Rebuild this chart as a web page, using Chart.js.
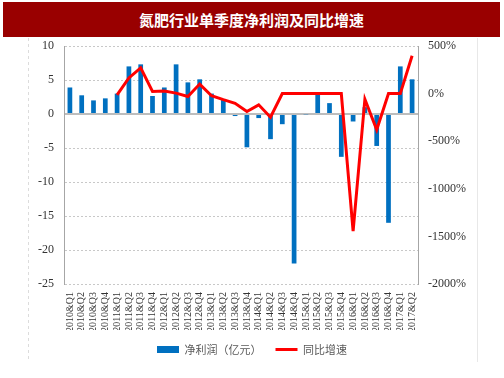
<!DOCTYPE html>
<html>
<head>
<meta charset="utf-8">
<script src="https://cdn.jsdelivr.net/npm/chart.js@4.4.1/dist/chart.umd.min.js"></script>
<style>
  html, body { margin: 0; padding: 0; background: #fff; }
  #wrap { position: relative; width: 504px; height: 378px; }
  #titleBar {
    position: absolute; left: 3px; top: 2px; width: 497px; height: 35px;
    background: #990000; color: #fff; text-align: center;
    font: bold 15px "Noto Sans CJK SC", sans-serif; line-height: 36px;
  }
  #chart { position: absolute; left: 0; top: 0; }
</style>
</head>
<body>
<div id="wrap">
  <div id="titleBar">氮肥行业单季度净利润及同比增速</div>
  <canvas id="chart" width="504" height="378"></canvas>
</div>
<script>
// Quarters shown on the x axis
var quarters = [
    '2010&Q1', '2010&Q2', '2010&Q3', '2010&Q4',
    '2011&Q1', '2011&Q2', '2011&Q3', '2011&Q4',
    '2012&Q1', '2012&Q2', '2012&Q3', '2012&Q4',
    '2013&Q1', '2013&Q2', '2013&Q3', '2013&Q4',
    '2014&Q1', '2014&Q2', '2014&Q3', '2014&Q4',
    '2015&Q1', '2015&Q2', '2015&Q3', '2015&Q4',
    '2016&Q1', '2016&Q2', '2016&Q3', '2016&Q4',
    '2017&Q1', '2017&Q2'
];

// Net profit per quarter (亿元)
var netProfit = [
    3.9, 2.75, 2.0, 2.3,
    3.0, 7.0, 7.3, 2.65,
    3.9, 7.3, 4.65, 5.1,
    3.0, 2.05, -0.3, -4.9,
    -0.6, -3.7, -1.5, -22.0,
    -0.1, 2.9, 1.6, -6.3,
    -1.1, 1.0, -4.7, -16.0,
    7.0, 5.1
];

// Year-on-year growth (%), starts in 2011Q1
var yoyGrowth = [
    null, null, null, null,
    -14, 165, 270, 22,
    28, 5, -30, 100,
    -22, -64, -102, -188,
    -118, -248, 0, 0,
    0, 0, 0, 0,
    -1445, -59, -380, 0,
    0, 397
];

var leftTicks = { min: -25, max: 10, step: 5 };
var rightTicks = { min: -2000, max: 500, step: 500 };

var tickFont = { family: '"Liberation Serif", "Times New Roman", serif', size: 12 };

// Light outer frame around the chart area of the slide
var framePlugin = {
    id: 'frame',
    beforeDraw: function (chart) {
        var ctx = chart.ctx;
        ctx.save();
        ctx.strokeStyle = '#dcdcdc';
        ctx.lineWidth = 1;
        ctx.setLineDash([3, 3]);
        ctx.beginPath();
        ctx.moveTo(28.5, 38);
        ctx.lineTo(28.5, 362);
        ctx.stroke();
        ctx.setLineDash([]);
        ctx.strokeStyle = '#e8e8e8';
        ctx.beginPath();
        ctx.moveTo(477.5, 38);
        ctx.lineTo(477.5, 362);
        ctx.stroke();
        ctx.restore();
    }
};

function isZero(c) {
    return c && c.tick && c.tick.value === 0;
}

var ctx = document.getElementById('chart').getContext('2d');
var chart = new Chart(ctx, {
    data: {
        labels: quarters,
        datasets: [{
            type: 'bar',
            label: '净利润（亿元）',
            data: netProfit,
            backgroundColor: '#0070C0',
            borderWidth: 0,
            categoryPercentage: 1,
            barPercentage: 0.4,
            yAxisID: 'y',
            order: 1
        }, {
            type: 'line',
            label: '同比增速',
            data: yoyGrowth,
            borderColor: '#FF0000',
            backgroundColor: '#FF0000',
            borderWidth: 3,
            pointRadius: 0,
            tension: 0,
            yAxisID: 'y1',
            order: 0
        }]
    },
    options: {
        responsive: false,
        animation: false,
        events: [],
        layout: { padding: { top: 46, left: 0, right: 0, bottom: 13 } },
        plugins: {
            title: { display: false },
            tooltip: { enabled: false },
            legend: {
                position: 'bottom',
                labels: {
                    usePointStyle: true,
                    pointStyleWidth: 22,
                    boxHeight: 7,
                    padding: 14,
                    color: '#595959',
                    font: { family: '"Noto Sans CJK SC", sans-serif', size: 11 },
                    generateLabels: function (c) {
                        var items = Chart.defaults.plugins.legend.labels.generateLabels(c);
                        items.sort(function (a, b) { return a.datasetIndex - b.datasetIndex; });
                        items.forEach(function (it) {
                            if (it.datasetIndex === 0) {
                                it.pointStyle = 'rect';
                                it.lineWidth = 0;
                            } else {
                                it.pointStyle = 'line';
                                it.lineWidth = 3;
                                it.strokeStyle = '#FF0000';
                            }
                        });
                        return items;
                    }
                }
            }
        },
        scales: {
            x: {
                offset: true,
                grid: { display: false, drawTicks: false },
                border: { display: false },
                ticks: {
                    autoSkip: false,
                    minRotation: 90,
                    maxRotation: 90,
                    padding: 8,
                    color: '#333',
                    font: { family: tickFont.family, size: 10 }
                },
                afterFit: function (scale) { scale.height = 46; }
            },
            y: {
                position: 'left',
                min: leftTicks.min,
                max: leftTicks.max,
                ticks: {
                    stepSize: leftTicks.step,
                    padding: 10,
                    color: '#333',
                    font: tickFont
                },
                grid: {
                    drawTicks: false,
                    color: function (c) { return isZero(c) ? '#bdbdbd' : '#c8c8c8'; },
                    lineWidth: function (c) { return isZero(c) ? 2 : 1; }
                },
                border: {
                    color: '#a6a6a6',
                    width: 1,
                    dash: function (c) { return (c && c.tick && c.tick.value !== 0) ? [2, 2] : []; }
                },
                afterFit: function (scale) { scale.width = 64; }
            },
            y1: {
                position: 'right',
                min: rightTicks.min,
                max: rightTicks.max,
                ticks: {
                    stepSize: rightTicks.step,
                    padding: 10,
                    color: '#333',
                    font: tickFont,
                    callback: function (v) { return v + '%'; }
                },
                grid: { display: false, drawTicks: false },
                border: { color: '#a6a6a6', width: 1 },
                afterFit: function (scale) { scale.width = 86; }
            }
        }
    },
    plugins: [framePlugin]
});
</script>
</body>
</html>
